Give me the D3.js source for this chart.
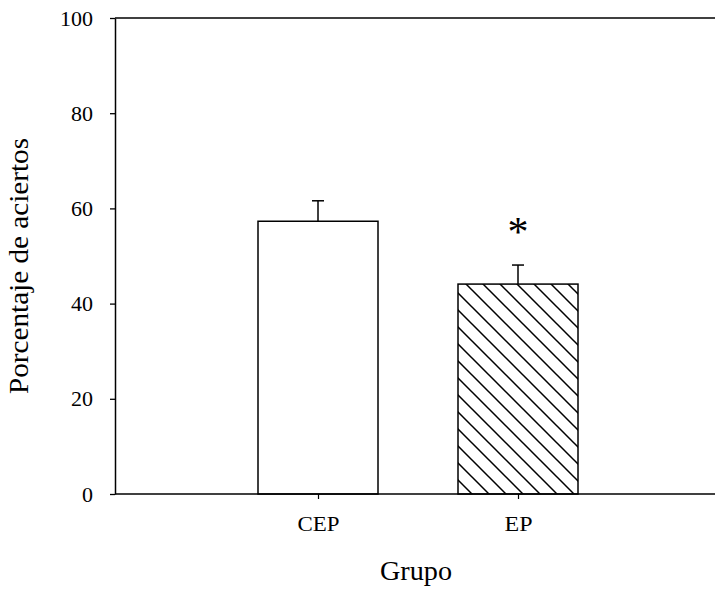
<!DOCTYPE html>
<html lang="es">
<head>
  <meta charset="UTF-8">
  <title>Porcentaje de aciertos por grupo</title>
  <script src="https://d3js.org/d3.v7.min.js"></script>
  <style>
    body { margin: 0; background: #fff; }
    svg { display: block; font-family: "Liberation Serif", "Times New Roman", serif; }
  </style>
</head>
<body>
  <script>
    // data
    const groups = ["CEP", "EP"];
    const means = [57.3, 44.1];
    const errors = [4.3, 4.0];
    const significant = [false, true];
    const yTicks = [0, 20, 40, 60, 80, 100];

    const W = 715, H = 595;
    const margin = { top: 18, right: 0, bottom: 101, left: 115 };
    const width = W - margin.left - margin.right;
    const height = H - margin.top - margin.bottom;

    const svg = d3.select("body").append("svg")
      .attr("width", W)
      .attr("height", H);

    // hatch for the second bar
    svg.append("defs").append("pattern")
      .attr("id", "hatch")
      .attr("patternUnits", "userSpaceOnUse")
      .attr("width", 17)
      .attr("height", 17)
      .call(p => {
        p.append("rect").attr("width", 17).attr("height", 17).attr("fill", "#fff");
        p.append("path")
          .attr("d", "M-4,-4 L21,21 M-21,-4 L4,21 M13,-4 L38,21")
          .attr("stroke", "#000")
          .attr("stroke-width", 1.5);
      });

    const g = svg.append("g").attr("transform", `translate(${margin.left},${margin.top})`);

    const x = d3.scalePoint().domain(groups).range([3, width + 3]).padding(1);
    const y = d3.scaleLinear().domain([0, 100]).range([height, 0]);
    const barW = x.step() * 0.6;

    // frame: top line
    g.append("line")
      .attr("x1", 0).attr("x2", width)
      .attr("y1", 0).attr("y2", 0)
      .attr("stroke", "#000").attr("stroke-width", 1.5);

    // y axis
    const yAxis = g.append("g")
      .call(d3.axisLeft(y).tickValues(yTicks).tickSize(5).tickSizeOuter(0).tickPadding(17));
    yAxis.select(".domain").attr("stroke-width", 1.5);
    yAxis.selectAll(".tick line").attr("stroke-width", 1.3);
    yAxis.selectAll("text").attr("font-size", 22).attr("fill", "#000")
      .attr("font-family", "Liberation Serif");

    // bars
    const bar = g.selectAll(".bar")
      .data(groups.map((grp, i) => ({ grp, v: means[i], e: errors[i], sig: significant[i], i })))
      .join("g")
      .attr("class", "bar");

    bar.append("line")
      .attr("x1", d => x(d.grp)).attr("x2", d => x(d.grp))
      .attr("y1", d => y(d.v)).attr("y2", d => y(d.v + d.e))
      .attr("stroke", "#000").attr("stroke-width", 1.5);

    bar.append("line")
      .attr("x1", d => x(d.grp) - 6).attr("x2", d => x(d.grp) + 6)
      .attr("y1", d => y(d.v + d.e)).attr("y2", d => y(d.v + d.e))
      .attr("stroke", "#000").attr("stroke-width", 1.5);

    bar.append("rect")
      .attr("x", d => x(d.grp) - barW / 2)
      .attr("y", d => y(d.v))
      .attr("width", barW)
      .attr("height", d => y(0) - y(d.v))
      .attr("fill", d => d.i === 1 ? "url(#hatch)" : "#fff")
      .attr("stroke", "#000")
      .attr("stroke-width", 1.5);

    bar.filter(d => d.sig).append("text")
      .attr("x", d => x(d.grp))
      .attr("y", d => y(d.v + d.e) - 19)
      .attr("text-anchor", "middle")
      .attr("font-size", 42)
      .text("*");

    // x axis
    const xAxis = g.append("g")
      .attr("transform", `translate(0,${height})`)
      .call(d3.axisBottom(x).tickSize(5).tickSizeOuter(0).tickPadding(17));
    xAxis.select(".domain").attr("d", `M0,0H${width}`).attr("stroke-width", 1.5);
    xAxis.selectAll(".tick line").attr("stroke-width", 1.2);
    xAxis.selectAll("text").attr("font-size", 21).attr("fill", "#000")
      .attr("font-family", "Liberation Serif")
      .attr("textLength", d => d.length * 14)
      .attr("lengthAdjust", "spacingAndGlyphs");

    // axis titles
    svg.append("text")
      .attr("x", margin.left + 301)
      .attr("y", 580)
      .attr("text-anchor", "middle")
      .attr("font-size", 27)
      .attr("textLength", 72)
      .attr("lengthAdjust", "spacingAndGlyphs")
      .text("Grupo");

    svg.append("text")
      .attr("transform", "translate(28,266) rotate(-90)")
      .attr("text-anchor", "middle")
      .attr("font-size", 27)
      .attr("textLength", 256)
      .attr("lengthAdjust", "spacingAndGlyphs")
      .text("Porcentaje de aciertos");
  </script>
</body>
</html>
